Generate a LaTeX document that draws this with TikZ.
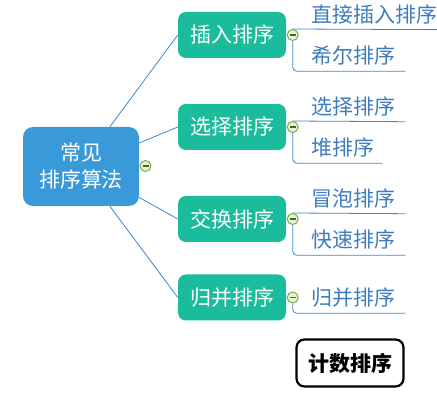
\documentclass[tikz,border=0pt]{standalone}
\usepackage{fontspec}
\setmainfont{Noto Sans CJK SC}
\usepackage{tikz}
\usetikzlibrary{positioning}

\definecolor{rootblue}{HTML}{3A9AD9}
\definecolor{sortgreen}{HTML}{1ABC9C}
\definecolor{linkblue}{HTML}{3B88CC}
\definecolor{leafblue}{HTML}{3E7CC0}
\definecolor{foldgreen}{HTML}{78B043}
\definecolor{foldfill}{HTML}{E6F1DA}

\begin{document}
\begin{tikzpicture}[x=1pt,y=-1pt,font=\fontsize{21}{27}\selectfont,
                    node distance=0.5pt]
  \tikzstyle{root}=[fill=rootblue,draw=none,text=white,rounded corners=10pt,
                    minimum width=116pt,minimum height=79pt,align=center]
  \tikzstyle{sort}=[fill=sortgreen,draw=none,text=white,rounded corners=8pt,
                    minimum width=108pt,minimum height=46pt]
  \tikzstyle{leaf}=[text=leafblue,inner xsep=0pt,inner ysep=0pt,
                    minimum height=30pt,anchor=west]
  \tikzstyle{fold}=[circle,draw=foldgreen,fill=foldfill,line width=1pt,
                    minimum size=11pt,inner sep=0pt,
                    path picture={\draw[foldgreen!60!black,line width=1.2pt]
                      ([xshift=2.5pt]path picture bounding box.west) --
                      ([xshift=-2.5pt]path picture bounding box.east);}]
  \tikzstyle{link}=[draw=linkblue,line width=0.8pt]
  \tikzstyle{bracket}=[link,rounded corners=4pt]

  \useasboundingbox (0,0) rectangle (437,403);

  \node[root] (R) at (81,166.5) {常见\\排序算法};
  \node[fold] (Rf) at (145.5,166) {};

  \node[sort] (A) at (232,35)    {插入排序}; % insert
  \node[sort] (B) at (232,127)   {选择排序}; % select
  \node[sort] (C) at (232,219)   {交换排序}; % swap
  \node[sort] (D) at (232,297.5) {归并排序}; % merge

  \node[fold] (Af) [right=of A] {};
  \node[fold] (Bf) [right=of B] {};
  \node[fold] (Cf) [right=of C] {};
  \node[fold] (Df) [right=of D] {};

  \node[leaf] (A1) at (311,14.5) {直接插入排序};
  \node[leaf] (A2) at (311,56)   {希尔排序};
  \node[leaf] (B1) at (311,106.5) {选择排序};
  \node[leaf] (B2) at (311,148)  {堆排序};
  \node[leaf] (C1) at (311,198.5) {冒泡排序};
  \node[leaf] (C2) at (311,240)  {快速排序};
  \node[leaf] (D1) at (311,298)  {归并排序};

  \node[draw=black,line width=2.2pt,rounded corners=8pt,minimum width=107pt,
        minimum height=47pt,font=\fontsize{21}{27}\selectfont\bfseries]
        (E) at (350,363) {计数排序}; % counting

  \path[link] (R.54)  edge (A.west)
              (R.22)  edge (B.west)
              (R.-28) edge (C.west)
              (R.-54) edge (D.west);

  \draw[link]    (Af.north) -- ([xshift=10pt]A1.south east);
  \draw[bracket] (Af.south) |- ([xshift=10pt]A2.south east);
  \draw[link]    (Bf.north) -- ([xshift=10pt]B1.south east);
  \draw[bracket] (Bf.south) |- ([xshift=8pt]B2.south east);
  \draw[link]    (Cf.north) -- ([xshift=10pt]C1.south east);
  \draw[bracket] (Cf.south) |- ([xshift=10pt]C2.south east);
  \draw[bracket] (Df.south) |- ([xshift=10pt]D1.south east);
\end{tikzpicture}
\end{document}
